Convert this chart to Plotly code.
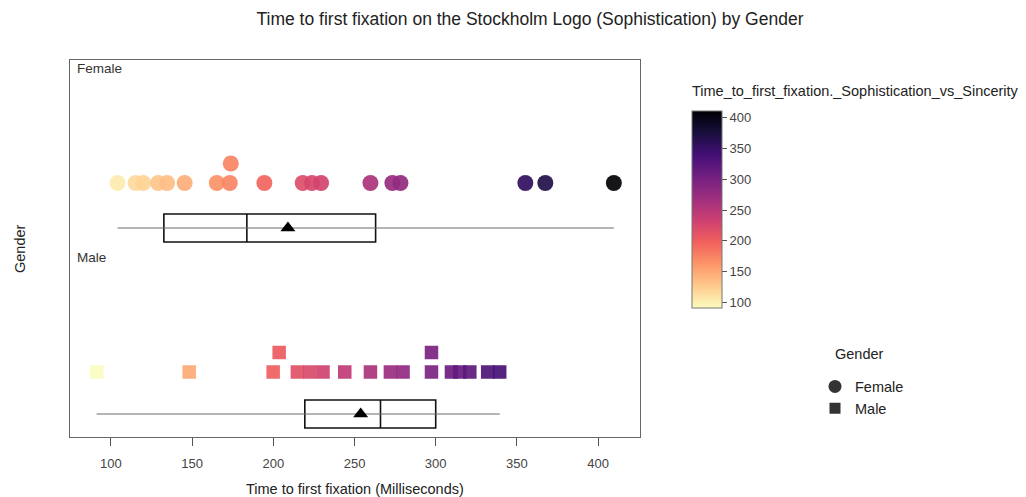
import plotly.graph_objects as go
import plotly.colors as pc

# ---------------- data ----------------
female_ms = [104.1, 115.2, 119.9, 129.1, 134.6, 145.4, 165.2, 173.2, 173.8, 194.5,
             218.1, 223.8, 229.4, 259.8, 273.3, 278.3, 355.2, 367.5, 409.7]
male_ms = [91.2, 148.2, 199.9, 203.6, 214.8, 222.5, 230.6, 244.0, 259.8, 272.1,
           279.9, 297.4, 297.4, 309.7, 314.8, 321.0, 332.0, 339.4]

groups = ["Female", "Male"]
# box statistics: whisker min, q1, median, q3, whisker max, mean
box_min = [104.1, 91.2]
box_q1 = [132.6, 219.4]
box_median = [183.7, 266.0]
box_q3 = [263.0, 300.0]
box_max = [409.7, 339.4]
box_mean = [209.0, 253.8]

color_ticks = [100, 150, 200, 250, 300, 350, 400]
x_ticks = [100, 150, 200, 250, 300, 350, 400]

# ---------------- layout constants (page pixels) ----------------
OFF = 8                       # page body margin
W, H = 1026, 497
PL, PR, PT, PB = 70, 640, 60, 437
PW, PH = PR - PL, PB - PT


def px_(page_x):
    return (page_x - PL) / PW


def py(page_y):
    return (PB - page_y) / PH


row_points = {"Female": py(183), "Male": py(372)}
row_box = {"Female": py(228), "Male": py(414)}
stack_step = 19.5 / PH
box_w = 28 / PH

FONT = "Liberation Sans"
cmin, cmax = 91, 411
scale = pc.sequential.Magma_r


def stack(values, thr=4.2):
    order = sorted(range(len(values)), key=lambda i: values[i])
    levels = [0] * len(values)
    placed = []
    for i in order:
        lv = 0
        while any(l == lv and abs(values[i] - v) < thr for v, l in placed):
            lv += 1
        levels[i] = lv
        placed.append((values[i], lv))
    return levels


fig = go.Figure()

symbols = {"Female": "circle", "Male": "square"}
sizes = {"Female": 16, "Male": 13.5}
for g, vals in zip(groups, [female_ms, male_ms]):
    lv = stack(vals)
    fig.add_trace(go.Scatter(
        x=vals, y=[row_points[g] + l * stack_step for l in lv],
        mode="markers", showlegend=False,
        marker=dict(symbol=symbols[g], size=sizes[g], color=vals,
                    coloraxis="coloraxis", line=dict(width=0), opacity=0.92),
        hoverinfo="x"))

for i, g in enumerate(groups):
    y0 = row_box[g]
    fig.add_trace(go.Scatter(x=[box_min[i], box_max[i]], y=[y0, y0], mode="lines",
                             line=dict(color="#6a6a6a", width=1), showlegend=False,
                             hoverinfo="skip"))
    fig.add_trace(go.Box(
        y=[y0], orientation="h", q1=[box_q1[i]], median=[box_median[i]], q3=[box_q3[i]],
        lowerfence=[box_q1[i]], upperfence=[box_q3[i]], width=box_w,
        fillcolor="white", line=dict(color="#111111", width=1.6),
        whiskerwidth=0, showlegend=False, boxpoints=False, hoverinfo="skip"))
    fig.add_trace(go.Scatter(x=[box_mean[i]], y=[y0], mode="markers",
                             marker=dict(symbol="triangle-up", size=13, color="black"),
                             showlegend=False, hoverinfo="x"))

# legend dummies
for g in groups:
    fig.add_trace(go.Scatter(x=[None], y=[None], mode="markers", name=g,
                             marker=dict(symbol=symbols[g], size=13 if g == "Female" else 11,
                                         color="#333333")))

fig.update_layout(
    width=W, height=H,
    margin=dict(l=PL - OFF, r=W - (PR - OFF), t=PT - OFF, b=H - (PB - OFF)),
    paper_bgcolor="white", plot_bgcolor="white",
    font=dict(family=FONT, color="#333333", size=13),
    title=dict(text="Time to first fixation on the Stockholm Logo (Sophistication) by Gender",
               x=(530 - OFF) / W, xanchor="center", xref="container",
               y=1 - (19 - OFF) / H, yanchor="middle", yref="container",
               font=dict(size=17.5, color="#222222", family=FONT)),
    coloraxis=dict(
        colorscale=scale, cmin=cmin, cmax=cmax,
        colorbar=dict(
            x=px_(692), xanchor="left", xpad=0,
            y=py(209.4), yanchor="middle", ypad=0,
            len=197 / PH, lenmode="fraction", thickness=30,
            outlinecolor="#777777", outlinewidth=1,
            tickvals=color_ticks, ticks="outside", ticklen=5, tickcolor="#555555",
            tickfont=dict(size=13, color="#444444"),
        )),
    legend=dict(x=px_(815), xanchor="left", y=py(397.5), yanchor="middle",
                font=dict(size=14.5, color="#222222"), itemsizing="trace",
                tracegroupgap=0, bgcolor="rgba(0,0,0,0)"),
    xaxis=dict(range=[74.8, 425.8], tickvals=x_ticks, ticks="outside", ticklen=8,
               tickcolor="#555555", showgrid=False, zeroline=False,
               showline=True, linecolor="#666666", linewidth=1, mirror=True,
               ticklabelstandoff=6,
               tickfont=dict(size=13, color="#444444")),
    yaxis=dict(range=[0, 1], showticklabels=False, ticks="", showgrid=False,
               zeroline=False, showline=True, linecolor="#666666", linewidth=1,
               mirror=True),
    annotations=[
        dict(text="Time_to_first_fixation._Sophistication_vs_Sincerity",
             x=px_(690), xref="paper", xanchor="left", y=py(91), yref="paper",
             yanchor="middle", showarrow=False, font=dict(size=14.5, color="#222222")),
        dict(text="Gender", x=px_(833), xref="paper", xanchor="left", y=py(354),
             yref="paper", yanchor="middle", showarrow=False,
             font=dict(size=14.5, color="#222222")),
        dict(text="Female", x=px_(75), xref="paper", xanchor="left", y=py(69),
             yref="paper", yanchor="middle", showarrow=False,
             font=dict(size=13.5, color="#333333")),
        dict(text="Male", x=px_(75), xref="paper", xanchor="left", y=py(258),
             yref="paper", yanchor="middle", showarrow=False,
             font=dict(size=13.5, color="#333333")),
        dict(text="Time to first fixation (Milliseconds)", x=0.5, xref="paper",
             xanchor="center", y=py(489), yref="paper", yanchor="middle",
             showarrow=False, font=dict(size=14.5, color="#222222")),
        dict(text="Gender", x=px_(20), xref="paper", xanchor="center",
             y=py(249), yref="paper", yanchor="middle", textangle=-90,
             showarrow=False, font=dict(size=14.5, color="#222222")),
    ],
)

fig.write_html("out.html")
